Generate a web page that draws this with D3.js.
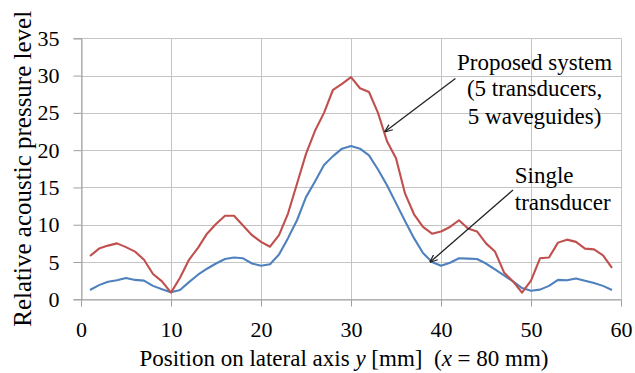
<!DOCTYPE html>
<html><head><meta charset="utf-8">
<script src="https://cdn.jsdelivr.net/npm/d3@7"></script>
<style>html,body{margin:0;padding:0;background:#fff}svg{display:block}svg text{font-family:"Liberation Serif",serif}</style>
</head><body><svg id="c" width="635" height="373"></svg>
<script>
const positions = d3.range(1, 60);
const proposed = [5.8,6.8,7.2,7.5,7.0,6.4,5.3,3.4,2.4,0.9,2.9,5.3,6.9,8.8,10.1,11.2,11.2,9.9,8.6,7.7,7.05,8.6,11.5,15.5,19.5,22.6,25.0,28.1,28.9,29.8,28.3,27.8,25.0,21.2,18.9,14.2,11.4,9.7,8.8,9.1,9.7,10.6,9.5,9.1,7.5,6.4,3.6,2.4,0.9,2.5,5.5,5.6,7.6,8.0,7.7,6.8,6.7,5.9,4.2];
const single = [1.25,1.9,2.35,2.55,2.85,2.6,2.5,1.8,1.35,0.95,1.25,2.3,3.3,4.1,4.8,5.4,5.6,5.5,4.8,4.5,4.7,6.0,8.2,10.6,13.7,15.8,18.0,19.2,20.2,20.55,20.2,19.3,17.4,15.3,12.9,10.5,8.2,6.2,5.0,4.5,4.9,5.5,5.45,5.4,4.8,4.0,3.2,2.4,1.5,1.15,1.3,1.8,2.6,2.55,2.8,2.5,2.2,1.8,1.25];
const xTicks = [0,10,20,30,40,50,60];
const yTicks = [0,5,10,15,20,25,30,35];
const proposedLabel = ["Proposed system","(5 transducers,","5 waveguides)"];
const singleLabel = ["Single","transducer"];

const svg = d3.select("#c");
const m = {l:81, t:38.3, r:14, b:73.7};
const W = 635 - m.l - m.r, H = 373 - m.t - m.b;
const x = d3.scaleLinear().domain([0,60]).range([m.l, m.l+W]);
const y = d3.scaleLinear().domain([0,35]).range([m.t+H, m.t]);
const font = '"Liberation Serif", serif';

svg.append("rect").attr("width",635).attr("height",373).attr("fill","#fff");

// grid
svg.append("g").selectAll("line").data(yTicks).join("line")
  .attr("x1", x(0)).attr("x2", x(60)).attr("y1", d=>Math.round(y(d))+0.5).attr("y2", d=>Math.round(y(d))+0.5)
  .attr("stroke","#c4c4c4").attr("stroke-width",1);
svg.append("g").selectAll("line").data(xTicks).join("line")
  .attr("y1", y(0)).attr("y2", y(35)).attr("x1", d=>Math.round(x(d))+0.5).attr("x2", d=>Math.round(x(d))+0.5)
  .attr("stroke","#c4c4c4").attr("stroke-width",1);

// axes
const xAxis = d3.axisBottom(x).tickValues(xTicks).tickSize(7).tickPadding(15);
const gx = svg.append("g").attr("transform",`translate(0,${Math.round(y(0))+0.5})`).call(xAxis);
const yAxis = d3.axisLeft(y).tickValues(yTicks).tickSize(8).tickPadding(14);
const gy = svg.append("g").attr("transform",`translate(${Math.round(x(0))+0.5},0)`).call(yAxis);
[gx,gy].forEach(g=>{
  g.attr("font-family",null).attr("font-size",null);
  g.select(".domain").attr("stroke","#a0a0a0");
  g.selectAll(".tick line").attr("stroke","#a0a0a0");
  g.selectAll("text").style("font-family",font).style("font-size","22px").attr("fill","#000");
});

// lines
const line = d3.line().x((d,i)=>x(positions[i])).y(d=>y(d));
svg.append("path").datum(single).attr("d",line).attr("fill","none").attr("stroke","#4f81bd").attr("stroke-width",2.1).attr("stroke-linejoin","round");
svg.append("path").datum(proposed).attr("d",line).attr("fill","none").attr("stroke","#c0504d").attr("stroke-width",2.1).attr("stroke-linejoin","round");

// axis titles
const xt = svg.append("text").attr("x",344).attr("y",366).attr("text-anchor","middle")
  .style("font-family",font).style("font-size","23px").attr("fill","#000").style("white-space","pre");
xt.append("tspan").text("Position on lateral axis ");
xt.append("tspan").attr("font-style","italic").text("y");
xt.append("tspan").text(" [mm]  (");
xt.append("tspan").attr("font-style","italic").text("x");
xt.append("tspan").text(" = 80 mm)");
svg.append("text").attr("transform",`translate(31,${y(17.5)}) rotate(-90)`).attr("text-anchor","middle")
  .style("font-family",font).style("font-size","25px").attr("fill","#000").text("Relative acoustic pressure level");

// annotations
const defs = svg.append("defs");
defs.append("marker").attr("id","ah").attr("viewBox","0 0 10 10").attr("refX",9).attr("refY",5)
  .attr("markerWidth",8).attr("markerHeight",8).attr("markerUnits","userSpaceOnUse").attr("orient","auto")
  .append("path").attr("d","M0,1 L10,5 L0,9").attr("fill","none").attr("stroke","#222").attr("stroke-width",1.5);
const arrows = [[41.6,29.6,33.8,22.5],[48.0,14.65,38.8,5.0]];
svg.append("g").selectAll("line").data(arrows).join("line")
  .attr("x1",d=>x(d[0])).attr("y1",d=>y(d[1])).attr("x2",d=>x(d[2])).attr("y2",d=>y(d[3]))
  .attr("stroke","#222").attr("stroke-width",1.3).attr("marker-end","url(#ah)");

const pBase = [30.8,27.2,23.5];
svg.append("g").selectAll("text").data(proposedLabel).join("text")
  .attr("x",x(50.4)).attr("y",(d,i)=>y(pBase[i])).attr("text-anchor","middle")
  .style("font-family",font).style("font-size","23px").attr("fill","#000").text(d=>d);
const sBase = [15.6,12.0];
svg.append("g").selectAll("text").data(singleLabel).join("text")
  .attr("x",x(48.2)).attr("y",(d,i)=>y(sBase[i])).attr("text-anchor","start")
  .style("font-family",font).style("font-size","23px").attr("fill","#000").text(d=>d);
</script></body></html>
